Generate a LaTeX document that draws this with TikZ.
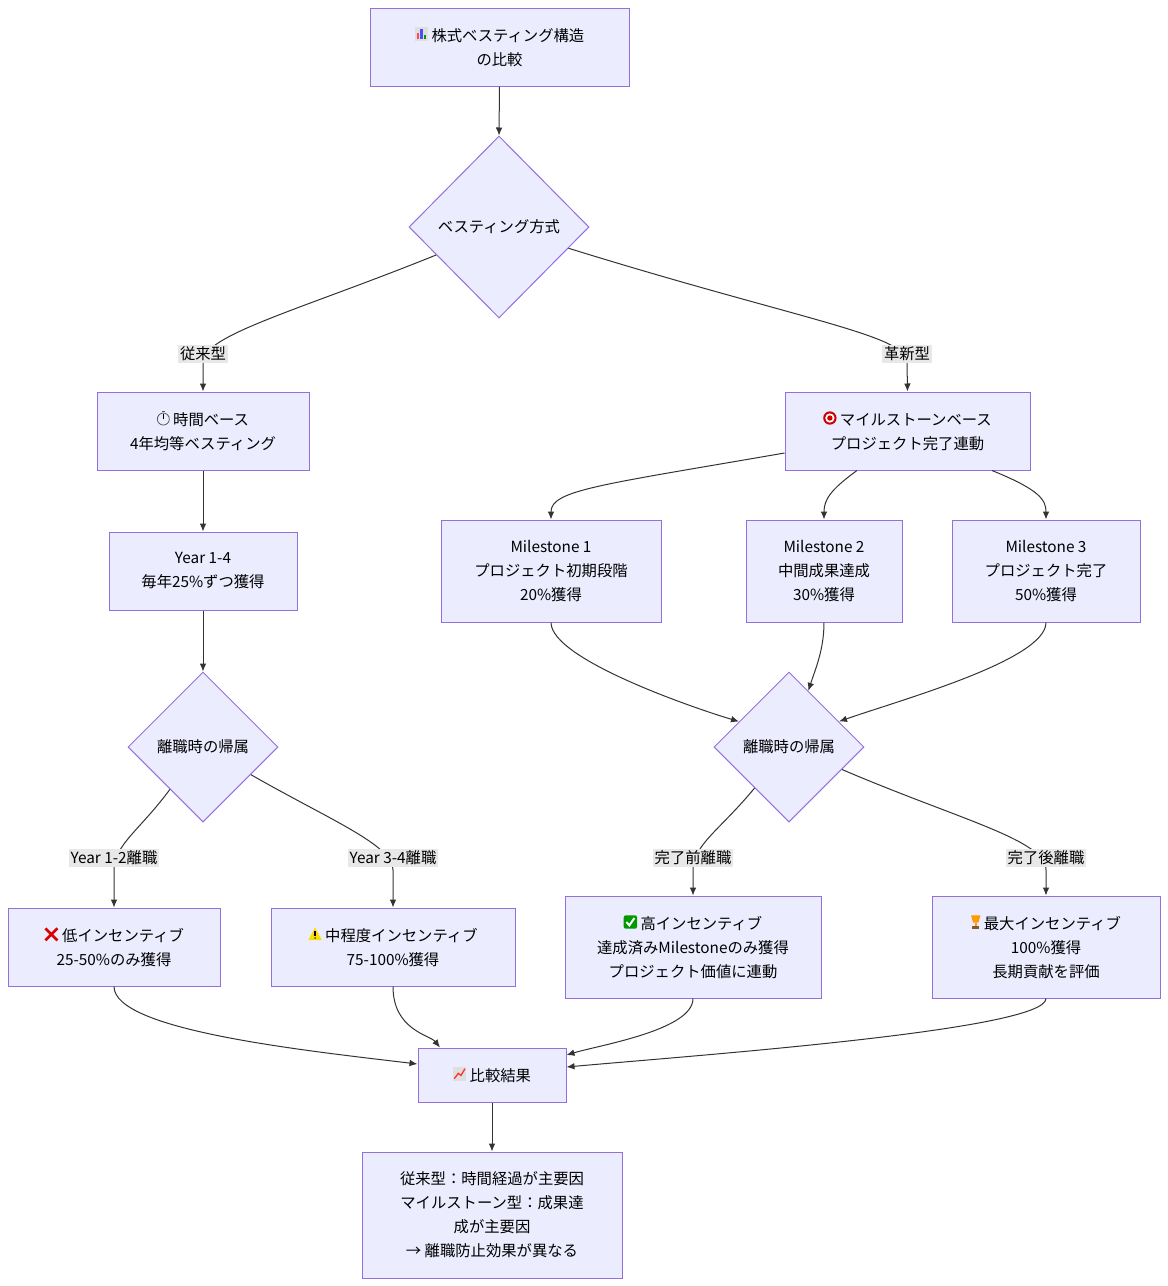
\documentclass[tikz,border=0pt]{standalone}
\usepackage{fontspec}
\setmainfont{Noto Sans CJK JP}
\newfontfamily\emo{DejaVu Sans}
\usetikzlibrary{shapes.geometric,arrows.meta}
\definecolor{nfill}{HTML}{ECECFF}
\definecolor{ndraw}{HTML}{9370DB}
\definecolor{edge}{HTML}{333333}
\definecolor{lbg}{HTML}{E8E8E8}
\tikzset{ic/.style={x=1pt,y=1pt,baseline=-1pt,line width=0.6pt}}
\newcommand{\icX}{\tikz[ic]{\draw[red!85!black,line width=2pt] (0,0)--(9,9) (0,9)--(9,0);}}
\newcommand{\icOK}{\tikz[ic]{\fill[green!60!black,rounded corners=1.5pt] (0,-0.5) rectangle (10,9.5);\draw[white,line width=1.5pt] (2,4.5)--(4.2,2)--(8,7.5);}}
\newcommand{\icWarn}{\tikz[ic]{\fill[yellow!80!orange] (0,0)--(10,0)--(5,9.5)--cycle;\fill[black] (4.5,3) rectangle (5.5,7);\fill (5,1.5) circle (0.6);}}
\newcommand{\icBar}{\tikz[ic]{\fill[gray!25] (0,-0.5) rectangle (10,9.5);\fill[red!70] (1.5,0.5) rectangle (3.3,5);\fill[blue!70] (4.2,0.5) rectangle (6,8);\fill[green!60!black] (6.9,0.5) rectangle (8.7,3.5);}}
\newcommand{\icTarget}{\tikz[ic]{\fill[red!80!black] (5,4.5) circle (5);\fill[white] (5,4.5) circle (3.5);\fill[red!80!black] (5,4.5) circle (2);}}
\newcommand{\icWatch}{\tikz[ic]{\draw[gray!70!black] (5,4) circle (4.5);\fill[gray!70!black] (4,9) rectangle (6,10);\draw (5,4)--(5,7.5);}}
\newcommand{\icTrophy}{\tikz[ic]{\fill[orange!80!yellow] (1.5,9.5)--(8.5,9.5)--(7,4)--(3,4)--cycle;\fill[orange!80!yellow] (4.3,4) rectangle (5.7,1.5);\fill[brown!70!black] (2.5,-0.5) rectangle (7.5,1.5);}}
\newcommand{\icLine}{\tikz[ic]{\fill[gray!25] (0,-0.5) rectangle (10,9.5);\draw[red!80,line width=1pt] (1,1)--(4,5)--(6,3.5)--(9,8.5);}}
\begin{document}
\begin{tikzpicture}[x=0.75pt,y=-0.75pt,font=\fontsize{11.5pt}{18pt}\selectfont,
 box/.style={draw=ndraw,fill=nfill,align=center,inner sep=0,line width=0.75pt},
 dia/.style={draw=ndraw,fill=nfill,diamond,aspect=1,inner sep=0,align=center,line width=0.75pt},
 arr/.style={draw=edge,line width=0.75pt,-{Latex[length=6pt,width=5pt]}},
 lab/.style={fill=lbg,inner sep=1.5pt}]
\useasboundingbox (0,0) rectangle (1168,1286);
\node[box,minimum width=194.25pt,minimum height=58.5pt] (t) at (499.5,47) {\icBar\ 株式ベスティング構造\\の比較};
\node[dia,minimum width=135pt,minimum height=136.5pt] (d1) at (499,227) {ベスティング方式};
\node[box,minimum width=159pt,minimum height=58.5pt] (tb) at (203,431) {\icWatch\ 時間ベース\\4年均等ベスティング};
\node[box,minimum width=183.75pt,minimum height=58.5pt] (mb) at (907.5,431) {\icTarget\ マイルストーンベース\\プロジェクト完了連動};
\node[box,minimum width=141pt,minimum height=58.5pt] (y) at (203,571) {Year 1-4\\毎年25\%ずつ獲得};
\node[box,minimum width=165pt,minimum height=76.5pt] (m1) at (551,571) {Milestone 1\\プロジェクト初期段階\\20\%獲得};
\node[box,minimum width=117pt,minimum height=76.5pt] (m2) at (824,571) {Milestone 2\\中間成果達成\\30\%獲得};
\node[box,minimum width=141pt,minimum height=76.5pt] (m3) at (1046,571) {Milestone 3\\プロジェクト完了\\50\%獲得};
\node[dia,minimum width=112.5pt,minimum height=112.5pt] (d2) at (203,747) {離職時の帰属};
\node[dia,minimum width=112.5pt,minimum height=112.5pt] (d3) at (789,747) {離職時の帰属};
\node[box,minimum width=159pt,minimum height=58.5pt] (lo) at (114,947) {\icX\ 低インセンティブ\\25-50\%のみ獲得};
\node[box,minimum width=183pt,minimum height=58.5pt] (mi) at (393,947) {\icWarn\ 中程度インセンティブ\\75-100\%獲得};
\node[box,minimum width=192pt,minimum height=76.5pt] (hi) at (693,947) {\icOK\ 高インセンティブ\\達成済みMilestoneのみ獲得\\プロジェクト価値に連動};
\node[box,minimum width=171pt,minimum height=76.5pt] (mx) at (1046,947) {\icTrophy\ 最大インセンティブ\\100\%獲得\\長期貢献を評価};
\node[box,minimum width=111pt,minimum height=40.5pt] (r) at (492,1075) {\icLine\ 比較結果};
\node[box,minimum width=195pt,minimum height=94.5pt] (f) at (492,1215) {従来型：時間経過が主要因\\マイルストーン型：成果達\\成が主要因\\→ 離職防止効果が異なる};
\draw[arr] (t.south) -- (d1.north);
\draw[arr] (d1.204) .. controls (300,310) and (203,335) .. (203,362) -- (tb.north);
\draw[arr] (d1.343) .. controls (800,320) and (907,335) .. (907,362) -- (mb.north);
\node[lab] (l1) at (203,354) {従来型};
\node[lab] (l2) at (907,354) {革新型};
\draw[arr] (tb.south) -- (y.north);
\draw[arr] (y.south) -- (d2.north);
\draw[arr] (mb.west|-0,453) .. controls (600,485) and (551,490) .. (m1.north);
\draw[arr] (mb.south-|857,0) .. controls (830,490) and (824,500) .. (m2.north);
\draw[arr] (mb.south-|992,0) .. controls (1040,490) and (1046,500) .. (m3.north);
\draw[arr] (m1.south) .. controls (551,660) and (700,710) .. (d3.153);
\draw[arr] (m2.south) .. controls (824,650) and (815,670) .. (d3.71);
\draw[arr] (m3.south) .. controls (1046,660) and (900,700) .. (d3.27);
\draw[arr] (d2.232) .. controls (140,830) and (114,845) .. (114,870) -- (lo.north);
\draw[arr] (d2.330) .. controls (330,820) and (393,845) .. (393,870) -- (mi.north);
\draw[arr] (d3.230) .. controls (720,830) and (693,845) .. (693,870) -- (hi.north);
\draw[arr] (d3.337) .. controls (960,820) and (1046,840) .. (1046,870) -- (mx.north);
\node[lab] at (114,858) {Year 1-2離職};
\node[lab] at (393,858) {Year 3-4離職};
\node[lab] at (693,858) {完了前離職};
\node[lab] at (1046,858) {完了後離職};
\draw[arr] (lo.south) .. controls (114,1030) and (300,1050) .. (r.west|-0,1064);
\draw[arr] (mi.south) .. controls (393,1030) and (430,1035) .. (r.north-|440,0);
\draw[arr] (hi.south) .. controls (693,1030) and (600,1045) .. (r.east|-0,1055);
\draw[arr] (mx.south) .. controls (1046,1030) and (700,1055) .. (r.east|-0,1067);
\draw[arr] (r.south) -- (f.north);
\end{tikzpicture}
\end{document}
